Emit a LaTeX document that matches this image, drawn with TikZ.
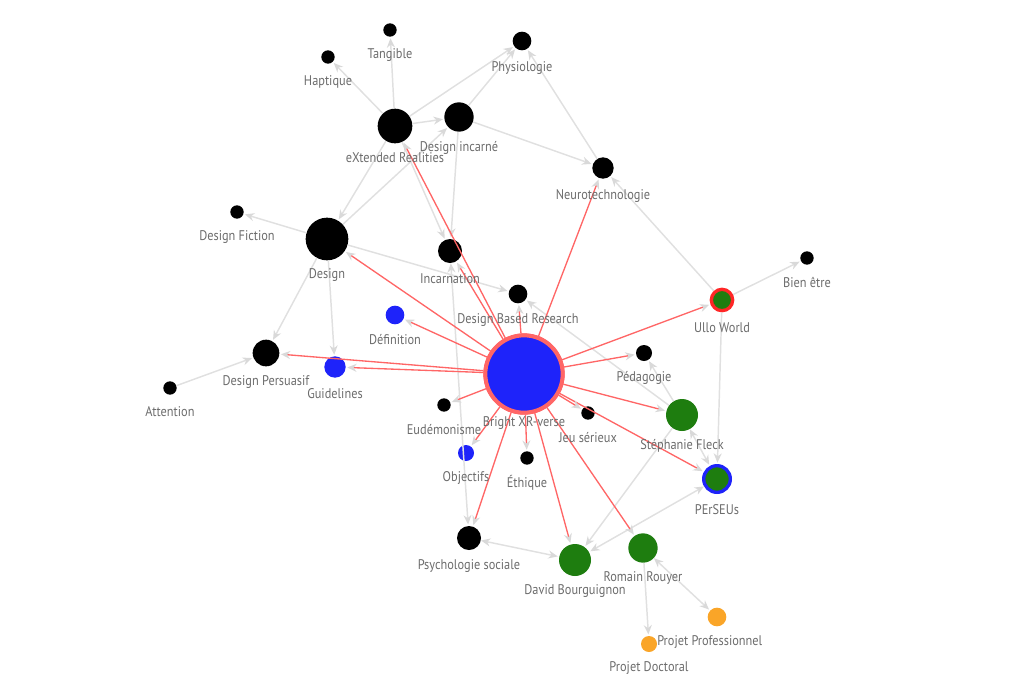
\documentclass[tikz,border=0pt]{standalone}
\usepackage{fontspec}
\setmainfont[FakeStretch=0.88]{PT Sans}
\usetikzlibrary{arrows.meta}
\begin{document}
\begin{tikzpicture}[x=0.75pt,y=-0.75pt,
  n/.style={circle,inner sep=0pt,fill=black},
  lab/.style={text=gray!85!black,font=\fontsize{10.5}{12}\selectfont,inner sep=0pt},
  ge/.style={draw=black!12,line width=1.1pt,-{Stealth[length=7pt,width=6pt,color=black!15]},shorten >=1pt},
  ge2/.style={ge,{Stealth[length=7pt,width=6pt,color=black!15]}-{Stealth[length=7pt,width=6pt,color=black!15]}},
  re/.style={draw=red!60,line width=1pt,-{Stealth[length=7pt,width=6pt,color=black!15]},shorten >=1pt}]
\useasboundingbox (0,0) rectangle (1024,693);
\definecolor{gr}{RGB}{30,125,15}
\definecolor{bl}{RGB}{30,35,250}
\definecolor{og}{RGB}{250,165,40}
% nodes
\node[n,minimum size=10pt] (Tang) at (390,30) {};
\node[n,minimum size=10pt] (Hapt) at (328,57) {};
\node[n,minimum size=14pt] (Phys) at (522,41) {};
\node[n,minimum size=26pt] (XR) at (395,126) {};
\node[n,minimum size=22pt] (DI) at (459,117) {};
\node[n,minimum size=16pt] (Neuro) at (603,168) {};
\node[n,minimum size=32pt] (Design) at (327,239) {};
\node[n,minimum size=10pt] (DF) at (237,212) {};
\node[n,minimum size=18pt] (Inc) at (450,251) {};
\node[n,minimum size=14pt] (DBR) at (518,294) {};
\node[n,fill=bl,minimum size=14pt] (Def) at (395,315) {};
\node[n,fill=bl,minimum size=16pt] (Guid) at (335,367) {};
\node[n,minimum size=20pt] (DP) at (266,353) {};
\node[n,minimum size=10pt] (Att) at (170,388) {};
\node[n,minimum size=10pt] (Eud) at (444,405) {};
\node[n,fill=bl,minimum size=12pt] (Obj) at (466,453) {};
\node[n,minimum size=10pt] (Eth) at (527,458) {};
\node[n,minimum size=10pt] (JS) at (588,413) {};
\node[n,minimum size=12pt] (Ped) at (644,353) {};
\node[n,fill=gr,minimum size=24pt] (SF) at (682,415) {};
\node[n,fill=gr,draw=bl,line width=2.5pt,minimum size=20pt] (PER) at (717,479) {};
\node[n,fill=gr,draw=red!85,line width=2.5pt,minimum size=16pt] (Ullo) at (722,300) {};
\node[n,minimum size=10pt] (BE) at (807,258) {};
\node[n,minimum size=18pt] (PS) at (469,538) {};
\node[n,fill=gr,minimum size=24pt] (DB) at (575,560) {};
\node[n,fill=gr,minimum size=22pt] (RR) at (643,548) {};
\node[n,fill=og,minimum size=14pt] (PP) at (717,617) {};
\node[n,fill=og,minimum size=12pt] (PD) at (649,644) {};
% gray edges
\draw[ge] (XR) -- (Tang);
\draw[ge] (XR) -- (Hapt);
\draw[ge] (XR) -- (Phys);
\draw[ge] (XR) -- (DI);
\draw[ge] (DI) -- (Phys);
\draw[ge] (DI) -- (Neuro);
\draw[ge] (Neuro) -- (Phys);
\draw[ge] (Ullo) -- (Neuro);
\draw[ge] (XR) -- (Design);
\draw[ge] (Design) -- (DI);
\draw[ge] (XR) -- (Inc);
\draw[ge] (DI) -- (Inc);
\draw[ge] (Design) -- (DBR);
\draw[ge] (Design) -- (DF);
\draw[ge] (Design) -- (DP);
\draw[ge] (Design) -- (Guid);
\draw[ge] (Att) -- (DP);
\draw[ge2] (Inc) -- (PS);
\draw[ge] (SF) -- (DBR);
\draw[ge] (SF) -- (Ped);
\draw[ge2] (SF) -- (PER);
\draw[ge] (SF) -- (DB);
\draw[ge2] (PER) -- (DB);
\draw[ge] (Ullo) -- (PER);
\draw[ge] (Ullo) -- (BE);
\draw[ge2] (PS) -- (DB);
\draw[ge] (RR) -- (PD);
\draw[ge2] (RR) -- (PP);
% red edges
\node[n,fill=bl,draw=red!60,line width=3pt,minimum size=58pt] (BX) at (524,374) {};
\foreach \t in {XR,Inc,DBR,Neuro,Design,Def,Guid,DP,Ullo,Ped,SF,PER,JS,Eth,Obj,Eud,PS,DB,RR}
  \draw[re] (BX) -- (\t);
\node[n,fill=bl,draw=red!60,line width=3pt,minimum size=58pt] at (524,374) {};
% labels
\node[lab] (lTang) at (390,55) {Tangible};
\node[lab] (lHapt) at (328,82) {Haptique};
\node[lab] (lPhys) at (522,68) {Physiologie};
\node[lab] (lXR) at (395,158) {eXtended Realities};
\node[lab] (lDI) at (459,148) {Design incarné};
\node[lab] (lNeuro) at (603,196) {Neurotechnologie};
\node[lab] (lDF) at (237,237) {Design Fiction};
\node[lab] (lDesign) at (327,275) {Design};
\node[lab] (lInc) at (450,279) {Incarnation};
\node[lab] (lDBR) at (518,320) {Design Based Research};
\node[lab] (lDef) at (395,340) {Définition};
\node[lab] (lGuid) at (335,394) {Guidelines};
\node[lab] (lDP) at (266,382) {Design Persuasif};
\node[lab] (lAtt) at (170,412) {Attention};
\node[lab] (lBX) at (524,423) {Bright XR-verse};
\node[lab] (lEud) at (444,430) {Eudémonisme};
\node[lab] (lObj) at (466,478) {Objectifs};
\node[lab] (lEth) at (527,483) {Éthique};
\node[lab] (lJS) at (588,438) {Jeu sérieux};
\node[lab] (lPed) at (644,378) {Pédagogie};
\node[lab] (lSF) at (682,446) {Stéphanie Fleck};
\node[lab] (lPER) at (717,510) {PErSEUs};
\node[lab] (lUllo) at (722,328) {Ullo World};
\node[lab] (lBE) at (807,282) {Bien être};
\node[lab] (lPS) at (469,566) {Psychologie sociale};
\node[lab] (lDB) at (575,591) {David Bourguignon};
\node[lab] (lRR) at (643,578) {Romain Rouyer};
\node[lab,anchor=west] (lPP) at (657,642) {Projet Professionnel};
\node[lab] (lPD) at (649,668) {Projet Doctoral};
\end{tikzpicture}
\end{document}
